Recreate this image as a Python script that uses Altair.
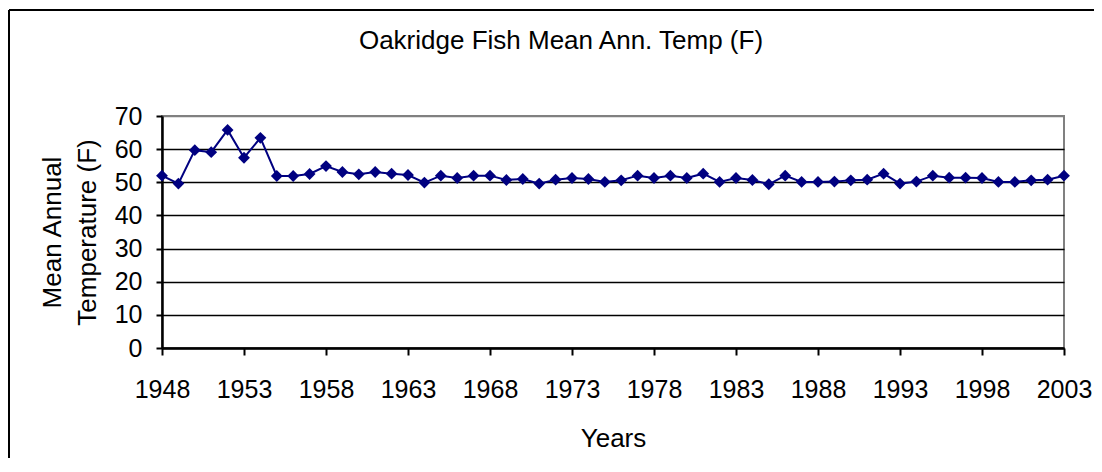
import altair as alt
import pandas as pd

years = list(range(1948, 2004))
temps = [52.0, 49.6, 59.7, 59.1, 65.8, 57.4, 63.4, 51.9, 51.9, 52.5,
         54.9, 53.1, 52.4, 53.1, 52.6, 52.2, 49.9, 52.0, 51.3, 52.0,
         52.0, 50.7, 51.0, 49.6, 50.8, 51.3, 51.0, 50.1, 50.6, 52.0,
         51.3, 52.0, 51.3, 52.6, 50.1, 51.3, 50.7, 49.4, 52.0, 50.1,
         50.1, 50.2, 50.6, 50.8, 52.6, 49.6, 50.2, 52.0, 51.4, 51.4,
         51.3, 50.1, 50.1, 50.6, 50.8, 52.0]
x_ticks = [1948, 1953, 1958, 1963, 1968, 1973, 1978, 1983, 1988, 1993, 1998, 2003]
y_ticks = [0, 10, 20, 30, 40, 50, 60, 70]

df = pd.DataFrame({"Year": years, "Temp": temps})

FONT = "Liberation Sans"

base = alt.Chart(df).encode(
    x=alt.X(
        "Year:Q",
        scale=alt.Scale(domain=[1948, 2003], nice=False, zero=False),
        axis=alt.Axis(
            values=x_ticks, format="d", title="Years", grid=False,
            tickSize=7, labelPadding=22, labelFontSize=25, labelFlush=False,
            titleFontSize=26, titleFontWeight="normal", titleY=77, titleBaseline="top",
        ),
    ),
    y=alt.Y(
        "Temp:Q",
        scale=alt.Scale(domain=[0, 70], nice=False, zero=True),
        axis=alt.Axis(
            values=y_ticks, title=["Mean Annual", "Temperature (F)"],
            grid=True, gridWidth=1.5,
            gridColor={"condition": {"test": "datum.value === 70", "value": "#808080"}, "value": "black"},
            tickSize=6, labelPadding=14, labelFontSize=25,
            titleFontSize=26, titleFontWeight="normal", titleAngle=-90, titleX=-102, titleY=116,
            titleBaseline="alphabetic", titleAlign="center", titleLineHeight=35,
        ),
    ),
)

line = base.mark_line(color="#000080", strokeWidth=2)
pts = base.mark_point(shape="diamond", filled=True, size=140, color="#000080", opacity=1)

one = pd.DataFrame({"k": [0]})
frame_left = alt.Chart(one).mark_rule(color="black", strokeWidth=2).encode(
    x=alt.value(-153), y=alt.value(-106), y2=alt.value(400)
)
frame_top = alt.Chart(one).mark_rule(color="black", strokeWidth=2).encode(
    y=alt.value(-106), x=alt.value(-153), x2=alt.value(1000)
)

chart = alt.layer(frame_left, frame_top, line, pts).properties(
    width=902,
    height=232,
    background="white",
    title=alt.TitleParams(
        "Oakridge Fish Mean Ann. Temp (F)", fontSize=26, font=FONT,
        fontWeight="normal", anchor="middle", dx=-52, dy=66, offset=0,
        baseline="alphabetic", color="black",
    ),
    autosize=alt.AutoSizeParams(type="none"),
    padding={"left": 154, "top": 108, "right": 30, "bottom": 110},
).configure_view(
    stroke="#808080", strokeWidth=2
).configure_axis(
    labelFont=FONT, titleFont=FONT, labelColor="black", titleColor="black",
    titleFontWeight="normal", domainColor="black", domainWidth=2.5,
    tickColor="black", tickWidth=2,
)

chart.save("out.html", embed_options={"renderer": "svg", "actions": False})
